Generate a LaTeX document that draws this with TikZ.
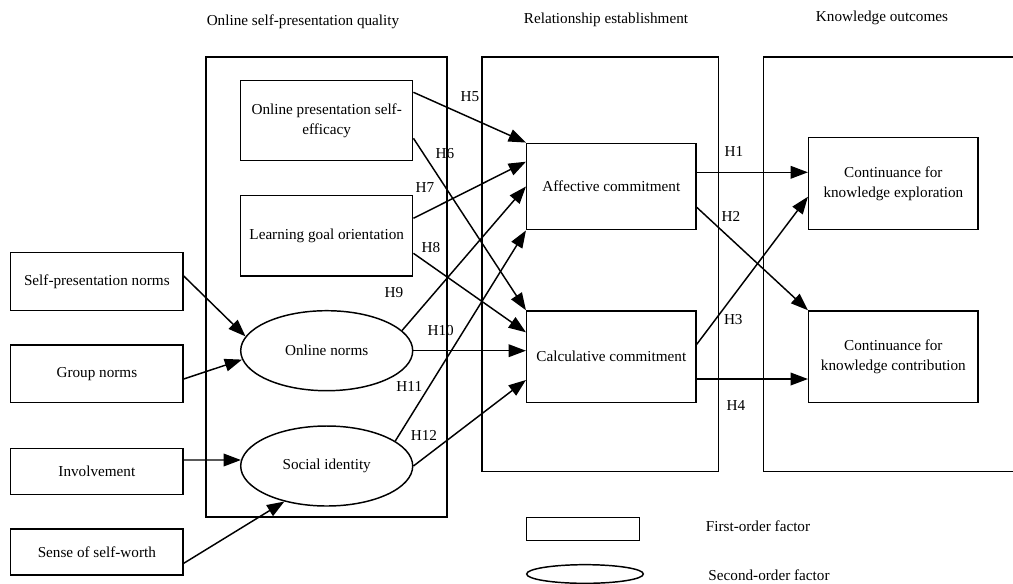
\documentclass[tikz,border=0pt]{standalone}
\usepackage{fontspec}
\setmainfont{Liberation Serif}
\usetikzlibrary{arrows.meta,calc,shapes.geometric}
\begin{document}
\begin{tikzpicture}[x=0.75pt,y=-0.75pt,
  every node/.style={font=\fontsize{11.4}{14.5}\selectfont},
  box/.style={draw,line width=1.1pt,rectangle,inner sep=0pt,align=center},
  ell/.style={draw,line width=1.1pt,ellipse,inner sep=0pt,minimum width=129pt,minimum height=60pt},
  arr/.style={line width=1.1pt,-{Triangle[length=13pt,width=9.5pt]}},
  grp/.style={draw,line width=1.1pt,rectangle,inner sep=0pt},
  hlab/.style={inner sep=0pt},
]
\useasboundingbox (0,0) rectangle (1013,583);

% group boxes
\node[grp,minimum width=180.75pt,minimum height=345pt] (G1) at (326.5,287) {};
\node[grp,minimum width=177.5pt,minimum height=311pt] (G2) at (600.35,264.35) {};
\coordinate (G3a) at (1013,57);
\coordinate (G3b) at (763.3,57);
\coordinate (G3c) at (763.3,471.7);
\coordinate (G3d) at (1013,471.7);
\draw[line width=1.1pt] (G3a) -- (G3b) -- (G3c) -- (G3d);

% titles
\node (T1) at (303,22) {Online self-presentation quality};
\node (T2) at (606,20) {Relationship establishment};
\node (T3) at (882,18) {Knowledge outcomes};

% first column
\node[box,minimum width=129.2pt,minimum height=43.5pt] (SPN) at (96.85,281.7) {Self-presentation norms};
\node[box,minimum width=129.2pt,minimum height=43pt] (GN) at (96.85,373.65) {Group norms};
\node[box,minimum width=129.2pt,minimum height=34.2pt] (INV) at (96.85,471.5) {Involvement};
\node[box,minimum width=129.2pt,minimum height=34.5pt] (SSW) at (96.85,552) {Sense of self-worth};

% second column
\node[box,minimum width=129pt,minimum height=60pt] (OPSE) at (326.7,120.7) {Online presentation self-\\efficacy};
\node[box,minimum width=129pt,minimum height=60.2pt] (LGO) at (326.7,235.85) {Learning goal orientation};
\node[ell] (ON) at (326.7,350.7) {Online norms};
\node[ell] (SI) at (326.7,466) {Social identity};

% third column
\node[box,minimum width=127pt,minimum height=64.8pt] (AC) at (611.35,186.5) {Affective commitment};
\node[box,minimum width=127pt,minimum height=68.5pt] (CC) at (611.35,356.65) {Calculative commitment};

% fourth column
\node[box,minimum width=127pt,minimum height=69pt] (CKE) at (893.35,183.7) {Continuance for\\knowledge exploration};
\node[box,minimum width=127pt,minimum height=68.5pt] (CKC) at (893.35,356.65) {Continuance for\\knowledge contribution};

% legend
\node[box,minimum width=84.5pt,minimum height=17.3pt] (LR) at (583,529.2) {};
\node[draw,line width=1.1pt,ellipse,inner sep=0pt,minimum width=87.5pt,minimum height=14pt] (LE) at (585,574) {};
\node (LRT) at (758,526.7) {First-order factor};
\node (LET) at (769,575) {Second-order factor};

% antecedents
\draw[arr] ($(SPN.east)+(0,-5.7)$) -- (ON.170);
\draw[arr] ($(GN.east)+(0,5.35)$) -- (ON.186);
\draw[arr] ($(INV.east)+(0,-11.5)$) -- (SI.176);
\draw[arr] ($(SSW.east)+(0,11.3)$) -- (SI.220);

% H5 - H12
\draw[arr] ($(OPSE.east)+(0,-28.4)$) -- (AC.north west);
\draw[arr] ($(OPSE.east)+(0,17.6)$) -- (CC.north west);
\draw[arr] ($(LGO.east)+(0,-17.55)$) -- ($(AC.west)+(0,-24.8)$);
\draw[arr] ($(LGO.east)+(0,17.45)$) -- ($(CC.west)+(0,-24.35)$);
\draw[arr] (ON.15) -- (AC.west);
\draw[arr] (ON.east) -- (ON.east -| CC.west);
\draw[arr] (SI.20) -- (AC.south west);
\draw[arr] (SI.east) -- ($(CC.west)+(0,23.35)$);

% H1 - H4
\coordinate (h1s) at ($(AC.east)+(0,-14.2)$);
\draw[arr] (h1s) -- (h1s -| CKE.west);
\draw[arr] ($(AC.east)+(0,20.8)$) -- (CKC.north west);
\draw[arr] ($(CC.east)+(0,-12.35)$) -- ($(CKE.west)+(0,13)$);
\coordinate (h4s) at ($(CC.east)+(0,22.35)$);
\draw[arr] (h4s) -- (h4s -| CKC.west);

% labels
\node[hlab] (L1) at (734,151) {H1};
\node[hlab] (L2) at (731,216.7) {H2};
\node[hlab] (L3) at (733.3,319.3) {H3};
\node[hlab] (L4) at (736,405.7) {H4};
\node[hlab] (L5) at (470,96.7) {H5};
\node[hlab] (L6) at (445,154) {H6};
\node[hlab] (L7) at (425,187.7) {H7};
\node[hlab] (L8) at (431,247.3) {H8};
\node[hlab] (L9) at (394,292.7) {H9};
\node[hlab] (L10) at (440.7,330.7) {H10};
\node[hlab] (L11) at (409.3,386.7) {H11};
\node[hlab] (L12) at (424,435) {H12};
\end{tikzpicture}
\end{document}
